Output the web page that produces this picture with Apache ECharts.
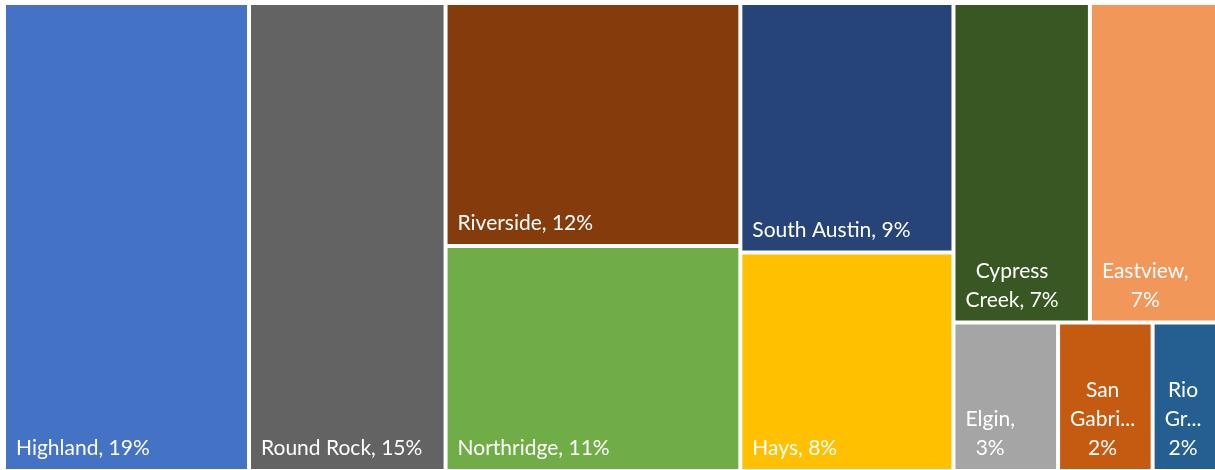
<!DOCTYPE html>
<html>
<head>
<meta charset="utf-8">
<script src="https://cdn.jsdelivr.net/npm/echarts@6/dist/echarts.min.js"></script>
<style>
    html, body { margin: 0; padding: 0; background: #fff; }
    #chartDiv { width: 1215px; height: 470px; }
</style>
</head>
<body>
<div id="chartDiv"></div>
<script>
    // 各区域占比（%）
    var names = ['Highland', 'Round Rock', 'Riverside', 'Northridge', 'South Austin', 'Hays',
        'Cypress Creek', 'Eastview', 'Elgin', 'San Gabriel', 'Rio Grande'];
    var values = [19.2, 15.4, 12.0, 11.1, 8.9, 7.8, 7.3, 6.8, 2.6, 2.35, 1.6];
    // 格子里显示的文字（按原图的换行和截断）
    var labels = ['Highland, 19%', 'Round Rock, 15%', 'Riverside, 12%', 'Northridge, 11%',
        'South Austin, 9%', 'Hays, 8%', 'Cypress\nCreek, 7%', 'Eastview,\n7%', 'Elgin,\n3%',
        'San\nGabri...\n2%', 'Rio\nGr...\n2%'];
    var colors = ['#4472C4', '#636363', '#843C0C', '#70AD47', '#264478', '#FFC000',
        '#385723', '#F1975A', '#A5A5A5', '#C55A11', '#255E91'];

    // 分组（只用于排版，让格子像 Excel 一样按列排）
    var groups = [[[[0, 1], [2, 3]], [4, 5]], [[6, 7], [[8, 9], 10]]];

    var font = '21px Lato';
    var ctx = document.createElement('canvas').getContext('2d');
    ctx.font = font;

    // 多行文字居中对齐，整体仍靠左下角
    function blockWidth(text) {
        return Math.max.apply(null, text.split('\n').map(function (s) {
            return ctx.measureText(s).width;
        }));
    }

    function build(node) {
        if (typeof node === 'number') {
            return {
                name: names[node],
                value: values[node],
                itemStyle: {color: colors[node], borderWidth: 2, borderColor: '#fff'},
                label: {formatter: labels[node], offset: [blockWidth(labels[node]) / 2 + 2, 2]}
            };
        }
        return {children: node.map(build)};
    }

    var chart = echarts.init(document.getElementById('chartDiv'));
    chart.setOption({
        animation: false,
        series: [{
            type: 'treemap',
            left: 4,
            top: 3,
            width: 1213,
            height: 468,
            roam: false,
            nodeClick: false,
            squareRatio: 1.34,
            breadcrumb: {show: false},
            itemStyle: {borderWidth: 0, gapWidth: 0, borderColor: '#fff'},
            label: {
                show: true,
                position: 'insideBottomLeft',
                distance: 8,
                padding: 0,
                align: 'center',
                color: '#fff',
                fontFamily: 'Lato',
                fontSize: 21,
                lineHeight: 29,
                overflow: 'none'
            },
            data: groups.map(build)
        }]
    });
</script>
</body>
</html>
